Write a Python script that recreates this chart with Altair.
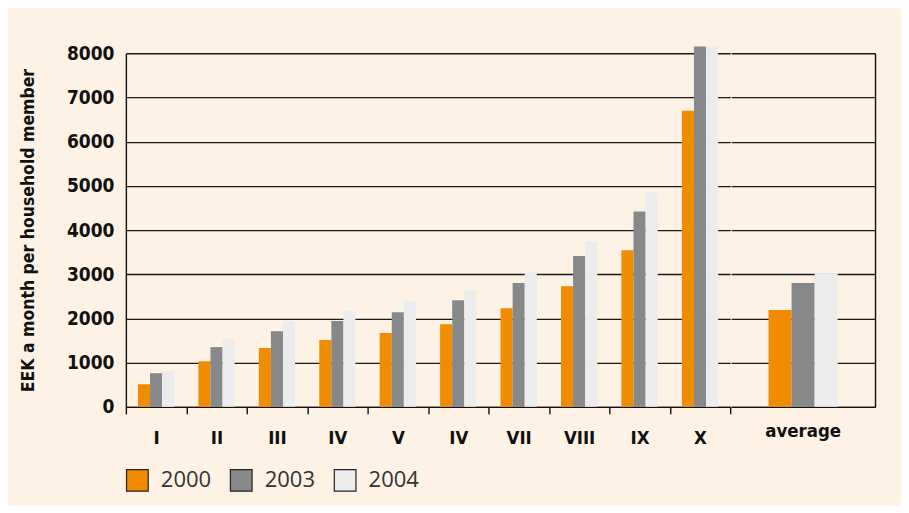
import altair as alt
import pandas as pd

categories = ["I", "II", "III", "IV", "V", "IV", "VII", "VIII", "IX", "X"]
years = ["2000", "2003", "2004"]
v2000 = [510, 1030, 1330, 1510, 1670, 1870, 2230, 2730, 3540, 6700]
v2003 = [760, 1350, 1710, 1940, 2140, 2410, 2800, 3410, 4420, 8150]
v2004 = [810, 1530, 1940, 2160, 2390, 2640, 3040, 3740, 4850, 8150]
avg_label = "average"
avg_values = [2190, 2800, 3020]
y_ticks = [0, 1000, 2000, 3000, 4000, 5000, 6000, 7000, 8000]
colors = ["#f08c00", "#878889", "#ececec"]

rows = []
for i, c in enumerate(categories):
    for yr, vals in zip(years, [v2000, v2003, v2004]):
        rows.append({"idx": i, "year": yr, "value": vals[i]})
df = pd.DataFrame(rows)
df_avg = pd.DataFrame({"cat": [avg_label] * 3, "year": years, "value": avg_values})

label_expr = "[" + ",".join("'%s'" % c for c in categories) + "][datum.value]"
BOLD = "DejaVu Sans Condensed"

color = alt.Color(
    "year:N",
    scale=alt.Scale(domain=years, range=colors),
    legend=alt.Legend(
        title=None, orient="none", direction="horizontal",
        legendX=0, legendY=416,
        symbolType="square", symbolSize=470, symbolStrokeColor="#222",
        symbolStrokeWidth=1.2, symbolOpacity=1,
        labelFont="Open Sans", labelFontSize=22, labelColor="#333",
        labelOffset=12, columnPadding=16,
    ),
)
yscale = alt.Scale(domain=[0, 8000], nice=False)

xlab = dict(labelFont=BOLD, labelFontSize=18.5, labelFontWeight="bold",
            labelColor="#111", labelAngle=0, labelPadding=15, title=None)

p1 = alt.Chart(df).mark_bar().encode(
    x=alt.X("idx:O", scale=alt.Scale(paddingInner=0, paddingOuter=0),
            axis=alt.Axis(labelExpr=label_expr, tickBand="extent", **xlab)),
    xOffset=alt.XOffset("year:N", sort=years,
                        scale=alt.Scale(paddingInner=0, paddingOuter=1)),
    y=alt.Y("value:Q", scale=yscale,
            axis=alt.Axis(values=y_ticks, format="d",
                          title="EEK a month per household member",
                          titleFont=BOLD, titleFontSize=17.5,
                          titleFontWeight="bold", titleColor="#111", titlePadding=29,
                          labelFont=BOLD, labelFontSize=19,
                          labelFontWeight="bold", labelColor="#111", labelPadding=12,
                          ticks=False, tickSize=0, grid=True, domain=True)),
    color=color,
).properties(width=605, height=354)

p2 = alt.Chart(df_avg).mark_bar().encode(
    x=alt.X("cat:N", scale=alt.Scale(paddingInner=0, paddingOuter=0.54),
            axis=alt.Axis(ticks=False, **xlab)),
    xOffset=alt.XOffset("year:N", sort=years,
                        scale=alt.Scale(paddingInner=0, paddingOuter=0)),
    y=alt.Y("value:Q", scale=yscale,
            axis=alt.Axis(values=y_ticks, orient="right", labels=False, ticks=False,
                          tickSize=0, title=None, grid=True, domain=True)),
    color=color,
).properties(width=144, height=354)

chart = alt.hconcat(p1, p2, spacing=0).resolve_scale(
    x="independent", xOffset="independent"
).properties(
    background="#fdf2e3",
    padding={"left": 11, "top": 36, "right": 26, "bottom": 12},
).configure_view(stroke=None).configure_axis(
    domainColor="#111", domainWidth=1.4, tickColor="#111", tickWidth=1.4, tickSize=7,
    gridColor="#1a1a1a", gridWidth=1.3, gridOpacity=1,
)

chart.save("out.html", embed_options={"renderer": "svg", "actions": False})
